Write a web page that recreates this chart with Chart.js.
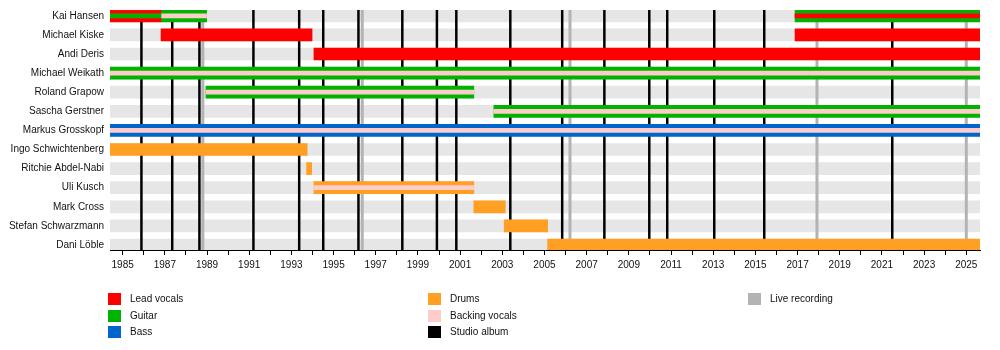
<!DOCTYPE html>
<html>
<head>
<meta charset="utf-8">
<script src="https://cdn.jsdelivr.net/npm/chart.js@4.4.1/dist/chart.umd.min.js"></script>
<style>
    body { margin: 0; background: #fff; }
    #wrap { position: relative; width: 1000px; height: 350px; }
    .key { position: absolute; height: 12px; font: 10px "Liberation Sans", Arial, sans-serif; color: #111; }
    .key span { position: absolute; left: 0; top: 0; width: 13px; height: 12px; }
    .key b { position: absolute; left: 22px; top: 0; line-height: 12px; font-weight: normal; white-space: nowrap; }
</style>
</head>
<body>
<div id="wrap">
    <canvas id="timeline" width="1000" height="350"></canvas>
</div>
<script>
// Timeline range (years)
const START = 1984.4;
const END = 2025.65;

const members = [
    'Kai Hansen', 'Michael Kiske', 'Andi Deris', 'Michael Weikath', 'Roland Grapow',
    'Sascha Gerstner', 'Markus Grosskopf', 'Ingo Schwichtenberg', 'Ritchie Abdel-Nabi',
    'Uli Kusch', 'Mark Cross', 'Stefan Schwarzmann', 'Dani Löble'
];

// Main bars: [member index, from, to]
const leadVocals = [[0, 1984.4, 1986.82], [1, 1986.82, 1993.98], [1, 2016.88, 2025.65], [2, 1994.07, 2025.65]];
const guitar = [[0, 1986.82, 1988.98], [0, 2016.88, 2025.65], [3, 1984.4, 2025.65], [4, 1988.95, 2001.65], [5, 2002.6, 2025.65]];
const bass = [[6, 1984.4, 2025.65]];
const drums = [[7, 1984.4, 1993.75], [8, 1993.72, 1993.96], [9, 1994.07, 2001.65], [10, 2001.65, 2003.14], [11, 2003.09, 2005.15], [12, 2005.15, 2025.65]];

// Thin inner stripes: [member index, from, to]
const backingVocals = [[0, 1986.82, 1988.98], [3, 1984.4, 2025.65], [4, 1988.95, 2001.65], [5, 2002.6, 2025.65], [6, 1984.4, 2025.65], [9, 1994.07, 2001.65]];
const guitarStripe = [[0, 1984.4, 1986.82]];
const vocalsStripe = [[0, 2016.88, 2025.65]];

// Release dates
const studioAlbums = [1985.89, 1987.35, 1988.64, 1991.2, 1993.37, 1994.51, 1996.18, 1998.26, 1999.9, 2000.82, 2003.38, 2005.84, 2007.84, 2009.97, 2010.82, 2013.05, 2015.42, 2021.49];
const liveRecordings = [1988.8, 1996.36, 2006.21, 2017.92, 2025.0];

const yearTicks = [];
for (let y = 1985; y <= 2025; y++) yearTicks.push(y);

const legendLabels = ['Lead vocals', 'Guitar', 'Bass', 'Drums', 'Backing vocals', 'Studio album', 'Live recording'];

const RED = '#ff0000';
const GREEN = '#00b300';
const BLUE = '#0066cc';
const ORANGE = '#ff9f24';
const PINK = '#ffcccc';
const BLACK = '#000000';
const GREY = '#b3b3b3';
const BAND = '#e6e6e6';
const FONT = '"Liberation Sans", Arial, sans-serif';

const legendColors = [RED, GREEN, BLUE, ORANGE, PINK, BLACK, GREY];

function toBars(list) {
    return list.map(s => ({ x: [s[1], s[2]], y: s[0] }));
}

// Album / live lines go between the grey row bands and the member bars
const releaseLines = {
    id: 'releaseLines',
    afterDatasetDraw(chart, args) {
        if (chart.data.datasets[args.index].label !== 'rows') return;
        const xScale = chart.scales.x;
        const area = chart.chartArea;
        const ctx = chart.ctx;
        ctx.save();
        ctx.beginPath();
        ctx.rect(area.left, area.top, area.right - area.left, area.bottom - area.top);
        ctx.clip();
        const draw = (list, color, width) => {
            list.forEach(d => {
                const px = xScale.getPixelForValue(d);
                ctx.strokeStyle = color;
                ctx.lineWidth = width;
                ctx.beginPath();
                ctx.moveTo(px, area.top);
                ctx.lineTo(px, area.bottom);
                ctx.stroke();
            });
        };
        draw(liveRecordings, GREY, 3);
        draw(studioAlbums, BLACK, 2.5);
        ctx.restore();
    }
};

const ctx = document.getElementById('timeline').getContext('2d');

new Chart(ctx, {
    type: 'bar',
    data: {
        datasets: [
            { label: 'Guitar stripe', data: toBars(guitarStripe), backgroundColor: GREEN, barThickness: 4, order: 1 },
            { label: 'Vocals stripe', data: toBars(vocalsStripe), backgroundColor: RED, barThickness: 4, order: 1 },
            { label: 'Backing vocals', data: toBars(backingVocals), backgroundColor: PINK, barThickness: 4, order: 1 },
            { label: 'Lead vocals', data: toBars(leadVocals), backgroundColor: RED, barThickness: 12, order: 2 },
            { label: 'Guitar', data: toBars(guitar), backgroundColor: GREEN, barThickness: 12, order: 2 },
            { label: 'Bass', data: toBars(bass), backgroundColor: BLUE, barThickness: 12, order: 2 },
            { label: 'Drums', data: toBars(drums), backgroundColor: ORANGE, barThickness: 12, order: 2 },
            { label: 'rows', data: members.map((m, i) => ({ x: [START, END], y: i })), backgroundColor: BAND, barThickness: 12, order: 3 }
        ]
    },
    options: {
        responsive: false,
        animation: false,
        indexAxis: 'y',
        layout: { padding: { top: 10, right: 20, left: 0, bottom: 0 } },
        plugins: {
            legend: { display: false },
            tooltip: { enabled: false }
        },
        datasets: {
            bar: { grouped: false, borderWidth: 0 }
        },
        scales: {
            x: {
                type: 'linear',
                min: START,
                max: END,
                offset: false,
                afterBuildTicks: scale => { scale.ticks = yearTicks.map(v => ({ value: v })); },
                afterFit: scale => { scale.height = 100; },
                grid: { display: true, offset: false, drawOnChartArea: false, drawTicks: true, tickLength: 5, color: BLACK },
                border: { display: true, color: BLACK, width: 1 },
                ticks: {
                    autoSkip: false,
                    maxRotation: 0,
                    padding: 4,
                    color: '#111',
                    font: { family: FONT, size: 10 },
                    callback: v => (v % 2 ? String(v) : '')
                }
            },
            y: {
                type: 'linear',
                reverse: true,
                offset: false,
                min: -0.304,
                max: 12.262,
                afterBuildTicks: scale => { scale.ticks = members.map((m, i) => ({ value: i })); },
                afterFit: scale => {
                    scale.width = 110;
                    scale.paddingTop = 0;
                    scale.paddingBottom = 0;
                },
                grid: { display: false, offset: false, drawTicks: false },
                border: { display: false },
                ticks: {
                    autoSkip: false,
                    padding: 6,
                    color: '#111',
                    font: { family: FONT, size: 10 },
                    callback: v => members[v]
                }
            }
        }
    },
    plugins: [releaseLines]
});

// Legend: three columns of three
const wrap = document.getElementById('wrap');
legendLabels.forEach((label, i) => {
    const item = document.createElement('div');
    item.className = 'key';
    item.style.left = (108 + Math.floor(i / 3) * 320) + 'px';
    item.style.top = (293 + (i % 3) * 16.7) + 'px';
    item.innerHTML = `<span style="background:${legendColors[i]}"></span><b>${label}</b>`;
    wrap.appendChild(item);
});
</script>
</body>
</html>
